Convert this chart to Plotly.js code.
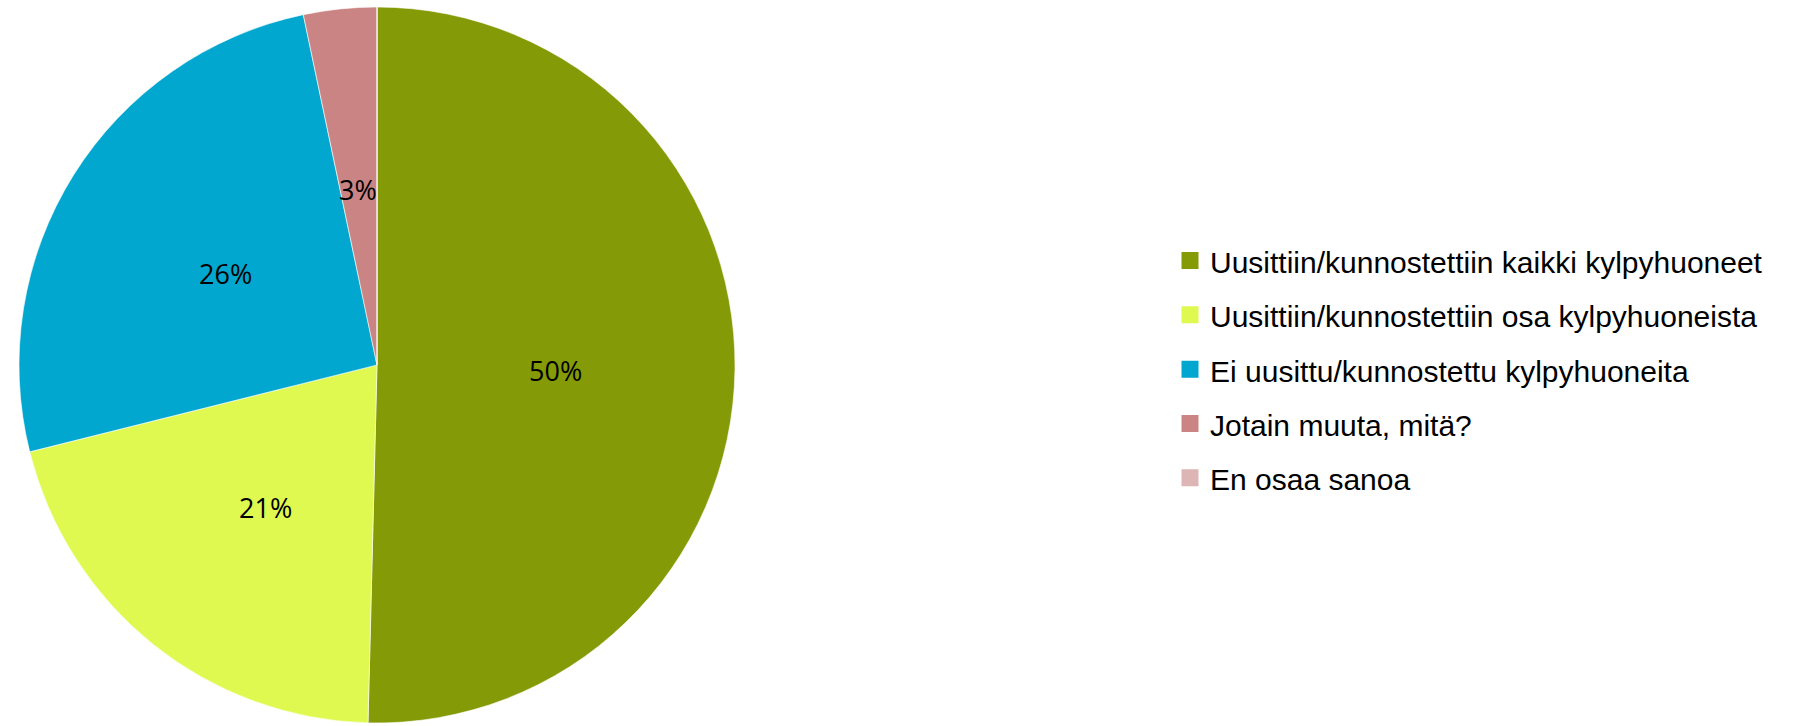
<!DOCTYPE html>
<html>
<head>
<meta charset="utf-8">
<script src="https://cdn.plot.ly/plotly-3.0.1.min.js"></script>
<style>
html,body{margin:0;padding:0;background:#fff;}
#chart{width:1796px;height:726px;}
</style>
</head>
<body>
<div id="chart"></div>
<script>
var categories = [
  "Uusittiin/kunnostettiin kaikki kylpyhuoneet",
  "Uusittiin/kunnostettiin osa kylpyhuoneista",
  "Ei uusittu/kunnostettu kylpyhuoneita",
  "Jotain muuta, mitä?",
  "En osaa sanoa"
];
var shares = [50.4, 20.7, 25.6, 3.3, 0];
var sliceColors = ["#849A06", "#DFF951", "#01A7CE", "#CB8484", "#DDB5B5"];

var legendFontPx = 30;
var legendLabels = categories.map(function(c){
  return '<span style="font-size:' + legendFontPx + 'px;baseline-shift:3px">' + c + '</span>';
});

var pieDomainX = [0, 754/1796];

// legend-only pie (hidden underneath the main pie) -> gives bigger legend squares
var legendPie = {
  type: 'pie',
  labels: legendLabels,
  values: shares,
  sort: false,
  direction: 'clockwise',
  rotation: 0,
  marker: {colors: sliceColors, line: {color: sliceColors, width: 5}},
  textinfo: 'none',
  hoverinfo: 'skip',
  domain: {x: [0.16, 0.26], y: [0.38, 0.62]},
  showlegend: true
};

// main visible pie
var mainPie = {
  type: 'pie',
  labels: legendLabels,
  values: shares,
  sort: false,
  direction: 'clockwise',
  rotation: 0,
  marker: {colors: sliceColors, line: {color: '#ffffff', width: 0.6}},
  textinfo: 'none',
  hoverinfo: 'label+percent',
  domain: {x: pieDomainX, y: [0, 1]},
  showlegend: false
};

// percentage labels placed at half radius on the slice bisector, through a hidden axis pair
var total = shares.reduce(function(a, b){ return a + b; }, 0);
var annotations = [];
var cum = 0;
shares.forEach(function(v){
  var mid = (cum + v / 2) / total * 2 * Math.PI;
  cum += v;
  if (v <= 0) return;
  annotations.push({
    xref: 'x', yref: 'y',
    x: 0.5 * Math.sin(mid),
    y: 0.5 * Math.cos(mid),
    text: Math.round(v / total * 100) + '%',
    showarrow: false,
    xanchor: 'center', yanchor: 'middle',
    yshift: -3,
    font: {family: 'Open Sans, sans-serif', size: 27, color: '#000000'}
  });
});

var layout = {
  width: 1796,
  height: 726,
  margin: {l: 0, r: 0, t: 7, b: 3},
  paper_bgcolor: '#ffffff',
  plot_bgcolor: 'rgba(0,0,0,0)',
  showlegend: true,
  xaxis: {domain: pieDomainX, range: [-1, 1], visible: false, fixedrange: true,
          scaleanchor: 'y', scaleratio: 1},
  yaxis: {domain: [0, 1], range: [-1, 1], visible: false, fixedrange: true},
  annotations: annotations,
  legend: {
    x: 1170/1796,
    xanchor: 'left',
    y: 0.494,
    yanchor: 'middle',
    font: {family: 'Liberation Sans Narrow, Liberation Sans, sans-serif', size: 39.5, color: '#000000'},
    bgcolor: 'rgba(0,0,0,0)'
  }
};

Plotly.newPlot('chart', [legendPie, mainPie], layout, {displayModeBar: false, staticPlot: true});
</script>
</body>
</html>
